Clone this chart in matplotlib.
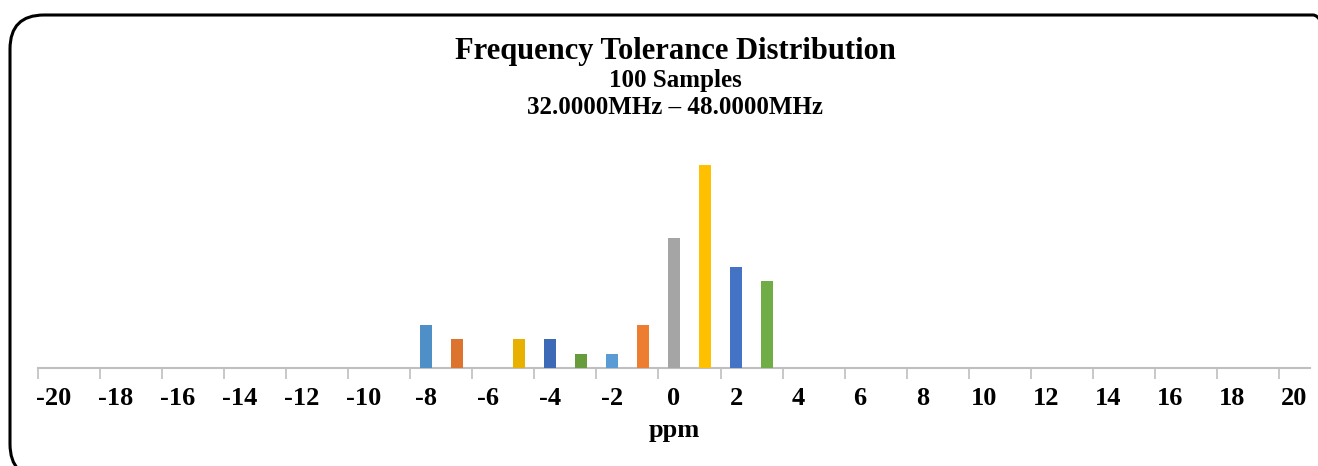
import matplotlib.pyplot as plt
from matplotlib.patches import FancyBboxPatch

# Percent of 100 samples per ppm bin (only non-empty bins)
bar_ppm = [-8, -7, -5, -4, -3, -2, -1, 0, 1, 2, 3]
bar_pct = [6, 4, 4, 4, 2, 2, 6, 18, 28, 14, 12]
bar_colors = ['#4f8fc8', '#dc7430', '#e8b000', '#3d6ab6', '#679c3d',
              '#5b9bd5', '#ed7d31', '#a5a5a5', '#ffc000', '#4472c4', '#70ad47']

ppm_min, ppm_max = -20, 20
tick_labels = list(range(ppm_min, ppm_max + 1, 2))

plt.rcParams['font.family'] = ['Liberation Serif', 'DejaVu Serif']
plt.rcParams['font.weight'] = 'bold'

fig = plt.figure(figsize=(13.18, 4.66), dpi=100)

# rounded frame around the chart (in inches, slightly past right and bottom edges)
frame = FancyBboxPatch((0.10, -0.12), 13.37, 4.66 - 0.15 + 0.12,
                       boxstyle='round,pad=0,rounding_size=0.34',
                       transform=fig.dpi_scale_trans, fill=False,
                       edgecolor='black', linewidth=2.2)
fig.patches.append(frame)

ax = fig.add_axes([38 / 1318, 98 / 466, 1272 / 1318, 217 / 466])
ax.bar(bar_ppm, bar_pct, width=0.4, color=bar_colors, zorder=3)

ax.set_xlim(ppm_min - 0.5, ppm_max + 0.5)
ax.set_ylim(0, 30)
ax.set_yticks([])

# category-style axis: ticks between bins, labels at bin centers
ax.set_xticks([t - 0.5 for t in tick_labels[:-1]] + [ppm_max - 0.5])
ax.set_xticklabels([])
ax.set_xticks(tick_labels, minor=True)
ax.set_xticklabels([str(t) for t in tick_labels], minor=True, fontsize=19, fontweight='bold')
ax.tick_params(axis='x', which='major', length=8, width=1.2, color='#bfbfbf', direction='out')
ax.tick_params(axis='x', which='minor', length=0, pad=14)

for side in ['top', 'right', 'left']:
    ax.spines[side].set_visible(False)
ax.spines['bottom'].set_color('#bfbfbf')
ax.spines['bottom'].set_linewidth(1.5)

ax.set_xlabel('ppm', fontsize=19, fontweight='bold', labelpad=6)

fig.text(675 / 1318, 1 - 51 / 466, 'Frequency Tolerance Distribution',
         ha='center', va='center', fontsize=22, fontweight='bold')
fig.text(675 / 1318, 1 - 81 / 466, '100 Samples',
         ha='center', va='center', fontsize=18, fontweight='bold')
fig.text(675 / 1318, 1 - 108 / 466, '32.0000MHz \u2013 48.0000MHz',
         ha='center', va='center', fontsize=18, fontweight='bold')

plt.savefig("out.png", dpi=100)
